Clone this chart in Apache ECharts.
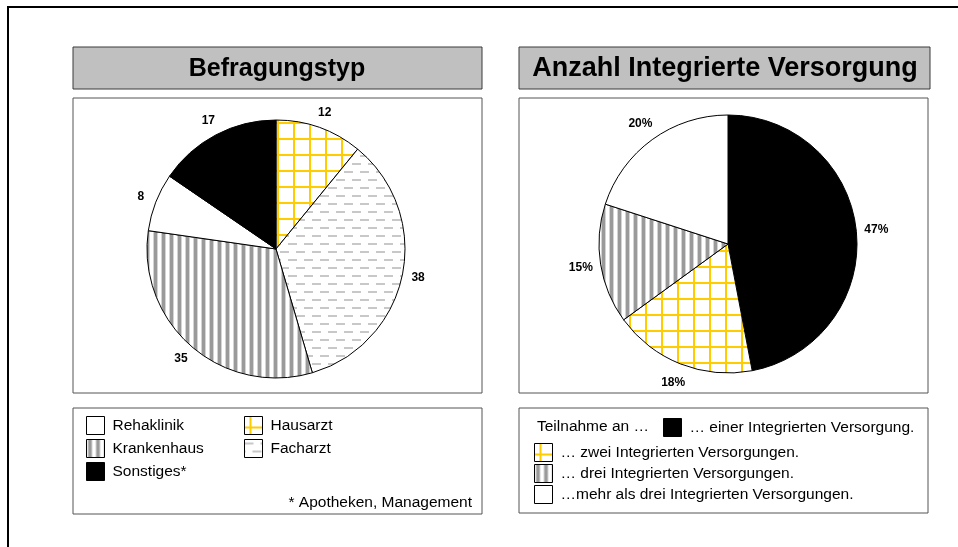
<!DOCTYPE html>
<html>
<head>
<meta charset="utf-8">
<script src="https://cdn.jsdelivr.net/npm/echarts@6/dist/echarts.min.js"></script>
<style>
  html, body { margin: 0; padding: 0; background: #fff; }
  #main { width: 958px; height: 547px; }
</style>
</head>
<body>
<div id="main"></div>
<script>
// Befragungstyp (Anzahl)
var typeNames = ['Hausarzt', 'Facharzt', 'Krankenhaus', 'Rehaklinik', 'Sonstiges*'];
var typeValues = [12, 38, 35, 8, 17];

// Anzahl Integrierte Versorgung (%)
var ivNames = ['… einer Integrierten Versorgung.', '… zwei Integrierten Versorgungen.',
  '… drei Integrierten Versorgungen.', '…mehr als drei Integrierten Versorgungen.'];
var ivValues = [47, 18, 15, 20];

// kleine Musterkacheln
function tile(w, h, draw) {
  var c = document.createElement('canvas');
  c.width = w; c.height = h;
  var ctx = c.getContext('2d');
  ctx.fillStyle = '#fff';
  ctx.fillRect(0, 0, w, h);
  draw(ctx);
  return { image: c, repeat: 'repeat' };
}
var gridYellow = tile(16, 16, function (ctx) {
  ctx.fillStyle = '#ffcc00';
  ctx.fillRect(5, 0, 2, 16);
  ctx.fillRect(0, 10, 16, 2);
});
var dashGray = tile(16, 16, function (ctx) {
  ctx.fillStyle = '#c8c8c8';
  ctx.fillRect(0, 3, 9, 2);
  ctx.fillRect(8, 11, 8, 2);
  ctx.fillRect(0, 11, 1, 2);
});
var stripeGray = tile(8, 8, function (ctx) {
  ctx.fillStyle = '#d4d4d4';
  ctx.fillRect(1, 0, 5, 8);
  ctx.fillStyle = '#9a9a9a';
  ctx.fillRect(2, 0, 3, 8);
});

var typeFills = [gridYellow, dashGray, stripeGray, '#fff', '#000'];
var ivFills = ['#000', gridYellow, stripeGray, '#fff'];

var font = 'Liberation Sans, Arial, sans-serif';
var R = 129;
var legendSize = 15.5;

function pieData(names, values, fills) {
  return names.map(function (n, i) {
    return { name: n, value: values[i], itemStyle: { color: fills[i] } };
  });
}
function labelData(names, values) {
  return names.map(function (n, i) {
    return { name: n, value: values[i] };
  });
}

var legendBase = {
  icon: 'rect',
  itemWidth: 18,
  itemHeight: 18,
  padding: 0,
  selectedMode: false,
  textStyle: { fontSize: legendSize, color: '#000', fontFamily: font, padding: [0, 0, 0, 3] },
  itemStyle: { borderColor: '#000', borderWidth: 1 }
};
function legend(extra) {
  return Object.assign({}, legendBase, extra);
}

var myChart = echarts.init(document.getElementById('main'));

var option = {
  animation: false,
  textStyle: { fontFamily: font },
  graphic: [
    { type: 'rect', shape: { x: 8, y: 7, width: 980, height: 580 },
      style: { fill: 'none', stroke: '#000', lineWidth: 2 } },
    // links
    { type: 'rect', shape: { x: 73, y: 47, width: 409, height: 42 },
      style: { fill: '#c0c0c0', stroke: '#3a3a3a', lineWidth: 1 } },
    { type: 'text', x: 277, y: 69,
      style: { text: 'Befragungstyp', fontSize: 25, fontWeight: 'bold', fontFamily: font,
        fill: '#000', align: 'center', verticalAlign: 'middle' } },
    { type: 'rect', shape: { x: 73, y: 98, width: 409, height: 295 },
      style: { fill: '#fff', stroke: '#555', lineWidth: 1 } },
    { type: 'rect', shape: { x: 73, y: 408, width: 409, height: 106 },
      style: { fill: '#fff', stroke: '#555', lineWidth: 1 } },
    { type: 'text', x: 472, y: 503,
      style: { text: '* Apotheken, Management', fontSize: legendSize, fontFamily: font,
        fill: '#000', align: 'right', verticalAlign: 'middle' } },
    // rechts
    { type: 'rect', shape: { x: 519, y: 47, width: 411, height: 42 },
      style: { fill: '#c0c0c0', stroke: '#3a3a3a', lineWidth: 1 } },
    { type: 'text', x: 725, y: 69,
      style: { text: 'Anzahl Integrierte Versorgung', fontSize: 27, fontWeight: 'bold', fontFamily: font,
        fill: '#000', align: 'center', verticalAlign: 'middle' } },
    { type: 'rect', shape: { x: 519, y: 98, width: 409, height: 295 },
      style: { fill: '#fff', stroke: '#555', lineWidth: 1 } },
    { type: 'rect', shape: { x: 519, y: 408, width: 409, height: 105 },
      style: { fill: '#fff', stroke: '#555', lineWidth: 1 } },
    { type: 'text', x: 537, y: 427,
      style: { text: 'Teilnahme an …', fontSize: legendSize, fontFamily: font,
        fill: '#000', align: 'left', verticalAlign: 'middle' } }
  ],
  legend: [
    legend({ data: ['Rehaklinik', 'Krankenhaus', 'Sonstiges*'], orient: 'vertical', left: 86, top: 416, itemGap: 4 }),
    legend({ data: ['Hausarzt', 'Facharzt'], orient: 'vertical', left: 244, top: 416, itemGap: 4 }),
    legend({ data: [ivNames[0]], orient: 'horizontal', left: 663, top: 418 }),
    legend({ data: ivNames.slice(1), orient: 'vertical', left: 534, top: 443, itemGap: 2 })
  ],
  series: [
    {
      type: 'pie', name: 'Befragungstyp',
      center: [276, 249], radius: R,
      startAngle: 90, clockwise: true,
      silent: true,
      label: { show: false }, labelLine: { show: false },
      itemStyle: { borderColor: '#000', borderWidth: 1 },
      data: pieData(typeNames, typeValues, typeFills)
    },
    {
      type: 'pie', name: 'Befragungstyp-Werte',
      center: [276, 249], radius: [R + 3, R + 23],
      silent: true, avoidLabelOverlap: false,
      itemStyle: { color: 'rgba(0,0,0,0)', borderWidth: 0 },
      label: { position: 'inside', formatter: '{c}', fontSize: 12, fontWeight: 'bold', color: '#000' },
      labelLine: { show: false },
      data: labelData(typeNames, typeValues)
    },
    {
      type: 'pie', name: 'Integrierte Versorgung',
      center: [728, 244], radius: R,
      startAngle: 90, clockwise: true,
      silent: true,
      label: { show: false }, labelLine: { show: false },
      itemStyle: { borderColor: '#000', borderWidth: 1 },
      data: pieData(ivNames, ivValues, ivFills)
    },
    {
      type: 'pie', name: 'Integrierte Versorgung-Werte',
      center: [728, 244], radius: [R + 6, R + 28],
      silent: true, avoidLabelOverlap: false,
      itemStyle: { color: 'rgba(0,0,0,0)', borderWidth: 0 },
      label: { position: 'inside', formatter: '{c}%', fontSize: 12, fontWeight: 'bold', color: '#000' },
      labelLine: { show: false },
      data: labelData(ivNames, ivValues)
    }
  ]
};

myChart.setOption(option);
</script>
</body>
</html>
